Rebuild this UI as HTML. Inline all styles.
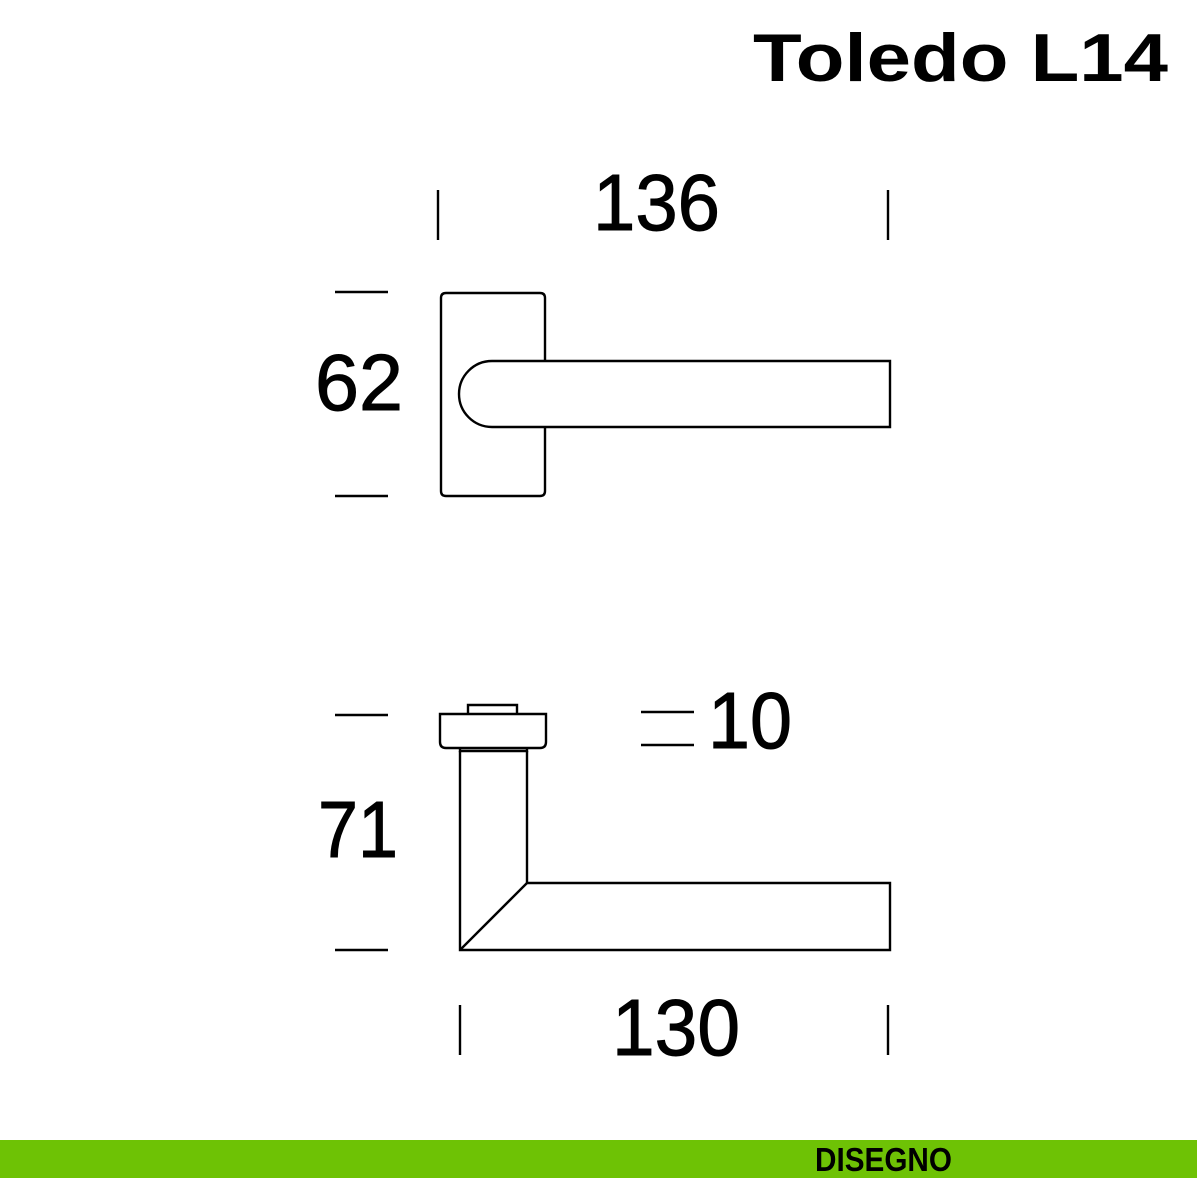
<!DOCTYPE html>
<html><head><meta charset="utf-8"><style>html,body{margin:0;padding:0;background:#fff}svg{display:block}</style></head>
<body>
<svg width="1200" height="1200" viewBox="0 0 1200 1200" xmlns="http://www.w3.org/2000/svg" font-family="Liberation Sans, sans-serif">
<rect width="1200" height="1200" fill="#fff"/>
<text x="753" y="81" font-size="68" font-weight="bold" textLength="415" lengthAdjust="spacingAndGlyphs">Toledo L14</text>
<g stroke="#000" stroke-width="2.4" fill="none">
<line x1="438" y1="190" x2="438" y2="240"/><line x1="888" y1="190" x2="888" y2="240"/>
<line x1="335" y1="292" x2="388" y2="292"/><line x1="335" y1="496" x2="388" y2="496"/>
<line x1="335" y1="715" x2="388" y2="715"/><line x1="335" y1="950" x2="388" y2="950"/>
<line x1="641" y1="712" x2="694" y2="712"/><line x1="641" y1="745" x2="694" y2="745"/>
<line x1="460" y1="1005" x2="460" y2="1055"/><line x1="888" y1="1005" x2="888" y2="1055"/>
<path d="M545 361 V298 Q545 293 540 293 H446 Q441 293 441 298 V491 Q441 496 446 496 H540 Q545 496 545 491 V427"/>
<path d="M890 361 H492 A33 33 0 0 0 492 427 H890 Z" fill="#fff"/>
<path d="M468 714 V705 H517 V714"/>
<path d="M440 714 H546 V742 Q546 748 540 748 H446 Q440 748 440 742 Z"/>
<path d="M460 748 V751 H527 V748"/>
<path d="M460 751 V950 H890 V883 H527 V751"/>
<line x1="527" y1="883" x2="460" y2="950"/>
</g>
<g font-size="80" fill="#000" stroke="#000" stroke-width="1">
<text x="593" y="230" textLength="127" lengthAdjust="spacingAndGlyphs">136</text>
<text x="315" y="410" textLength="88" lengthAdjust="spacingAndGlyphs">62</text>
<text x="318" y="857" textLength="80" lengthAdjust="spacingAndGlyphs">71</text>
<text x="708" y="748" textLength="84" lengthAdjust="spacingAndGlyphs">10</text>
<text x="612" y="1055" textLength="128" lengthAdjust="spacingAndGlyphs">130</text>
</g>
<rect x="0" y="1140" width="1197" height="38" fill="#6ec205"/>
<text x="815" y="1171" font-size="33" font-weight="bold" fill="#000" textLength="137" lengthAdjust="spacingAndGlyphs">DISEGNO</text>
</svg>
</body></html>
